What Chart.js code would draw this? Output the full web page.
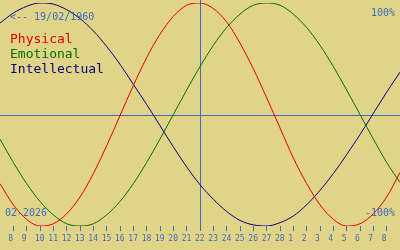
<!DOCTYPE html>
<html>
<head>
<meta charset="utf-8">
<script src="https://cdn.jsdelivr.net/npm/chart.js@4/dist/chart.umd.min.js"></script>
<style>
  html, body { margin: 0; padding: 0; background: #e2d486; }
  canvas { display: block; }
</style>
</head>
<body>
<canvas id="bio" width="400" height="250"></canvas>
<script>
// day index 0 = 7 Feb 2026, index 30 = 9 Mar 2026
const dayLabels = ['8', '9', '10', '11', '12', '13', '14', '15', '16', '17', '18', '19', '20', '21',
  '22', '23', '24', '25', '26', '27', '28', '1', '2', '3', '4', '5', '6', '7', '8']
const physical = [-0.62, -0.81, -0.94, -1.0, -0.98, -0.89, -0.74, -0.53, -0.28, -0.01, 0.26,
  0.51, 0.72, 0.88, 0.98, 1.0, 0.95, 0.83, 0.64, 0.41, 0.15, -0.12, -0.39, -0.62, -0.81,
  -0.94, -1.0, -0.98, -0.89, -0.74, -0.52]
const emotional = [-0.22, -0.43, -0.62, -0.78, -0.90, -0.98, -1.0, -0.98, -0.90, -0.78, -0.62,
  -0.43, -0.22, 0.0, 0.22, 0.43, 0.62, 0.78, 0.90, 0.98, 1.0, 0.98, 0.90, 0.78, 0.62,
  0.43, 0.22, 0.0, -0.22, -0.43, -0.61]
const intellectual = [0.82, 0.91, 0.97, 1.0, 0.99, 0.94, 0.86, 0.75, 0.61, 0.45, 0.27,
  0.09, -0.10, -0.29, -0.47, -0.63, -0.76, -0.87, -0.95, -0.99, -1.0, -0.97, -0.91, -0.81,
  -0.68, -0.53, -0.36, -0.18, 0.01, 0.2, 0.38]
const seriesNames = ['Physical', 'Emotional', 'Intellectual']
const seriesColors = ['#e00000', '#007000', '#000080']
const birthLabel = '<-- 19/02/1960'
const monthLabel = '02-2026'
const topLabel = '100%'
const bottomLabel = '-100%'
const markerDay = 15

const blueInk = '#3a6ec4'
const monoFont = '"DejaVu Sans Mono", monospace'

function toPoints(arr) {
  return arr.map((v, i) => ({ x: i, y: v }))
}

const bioPlugin = {
  id: 'bio',
  beforeDraw(chart) {
    const ctx = chart.ctx
    ctx.save()
    ctx.fillStyle = '#e2d486'
    ctx.fillRect(0, 0, chart.width, chart.height)
    ctx.restore()
  },
  beforeDatasetsDraw(chart) {
    const ctx = chart.ctx
    const xs = chart.scales.x
    const ys = chart.scales.y
    const yMid = Math.round(ys.getPixelForValue(0)) + 0.5
    const xMark = Math.round(xs.getPixelForValue(markerDay)) + 0.5
    ctx.save()
    ctx.strokeStyle = blueInk
    ctx.lineWidth = 1
    ctx.beginPath()
    ctx.moveTo(0, yMid)
    ctx.lineTo(chart.width, yMid)
    ctx.moveTo(xMark, 0)
    ctx.lineTo(xMark, chart.chartArea.bottom + 5)
    ctx.stroke()
    ctx.restore()
  },
  afterDraw(chart) {
    const ctx = chart.ctx
    ctx.save()
    ctx.textBaseline = 'alphabetic'
    ctx.font = '10px ' + monoFont
    ctx.fillStyle = blueInk
    ctx.textAlign = 'left'
    ctx.fillText(birthLabel, 10, 20)
    ctx.fillText(monthLabel, 5, 216)
    ctx.textAlign = 'right'
    ctx.fillText(topLabel, 395, 16)
    ctx.fillText(bottomLabel, 395, 216)
    ctx.textAlign = 'left'
    ctx.font = '13px ' + monoFont
    seriesNames.forEach((name, i) => {
      ctx.fillStyle = seriesColors[i]
      ctx.fillText(name, 10, 43 + i * 15)
    })
    ctx.restore()
  }
}

new Chart(document.getElementById('bio'), {
  type: 'line',
  data: {
    datasets: [
      { label: seriesNames[0], data: toPoints(physical), borderColor: seriesColors[0] },
      { label: seriesNames[1], data: toPoints(emotional), borderColor: seriesColors[1] },
      { label: seriesNames[2], data: toPoints(intellectual), borderColor: seriesColors[2] }
    ]
  },
  options: {
    responsive: false,
    animation: false,
    devicePixelRatio: 1,
    layout: { padding: { top: 3, left: 0, right: 0, bottom: 0 } },
    elements: {
      point: { radius: 0 },
      line: { borderWidth: 1, cubicInterpolationMode: 'monotone' }
    },
    plugins: { legend: { display: false }, tooltip: { enabled: false } },
    scales: {
      x: {
        type: 'linear',
        min: 0,
        max: 30,
        afterFit(s) { s.height = 24 },
        afterBuildTicks(s) {
          s.ticks = dayLabels.map((_, i) => ({ value: i + 1 }))
        },
        ticks: {
          autoSkip: false,
          maxRotation: 0,
          align: 'start',
          labelOffset: -5,
          padding: 3,
          color: blueInk,
          font: { family: monoFont, size: 8 },
          callback: v => dayLabels[v - 1]
        },
        grid: { drawOnChartArea: false, tickLength: 5, color: blueInk, lineWidth: 1 },
        border: { display: false }
      },
      y: { display: false, min: -1, max: 1 }
    }
  },
  plugins: [bioPlugin]
})
</script>
</body>
</html>
